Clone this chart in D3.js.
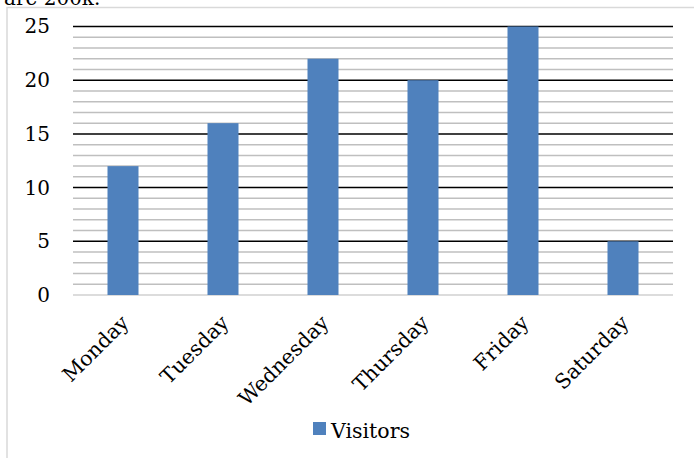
<!DOCTYPE html>
<html><head><meta charset="utf-8">
<script src="https://cdn.jsdelivr.net/npm/d3@7"></script>
<style>body{margin:0;background:#fff}svg{display:block}</style>
</head><body>
<script>
const categories = ["Monday","Tuesday","Wednesday","Thursday","Friday","Saturday"];
const visitors = [12,16,22,20,25,5];
const majorTicks = [0,5,10,15,20,25];
const seriesName = "Visitors";

const W=694,H=458;
const svg=d3.select("body").append("svg").attr("width",W).attr("height",H);
const font="'DejaVu Serif', 'Liberation Serif', serif";

// cut-off text above chart
svg.append("text").attr("x",4).attr("y",5).attr("font-family",font).attr("font-size",20).attr("fill","#000").text("are 200k.");
// chart border
svg.append("rect").attr("x",7).attr("y",7.5).attr("width",W+10).attr("height",H+10)
  .attr("fill","#fff").attr("stroke","#d9d9d9").attr("stroke-width",1.5);

const m={l:73,r:673,t:26.5,b:295};
const x=d3.scaleBand().domain(categories).range([m.l,m.r]).paddingInner(0.69).paddingOuter(0.345);
const y=d3.scaleLinear().domain([0,25]).range([m.b,m.t]);

const g=svg.append("g");
const minor=d3.range(0,26);
g.selectAll("line.minor").data(minor.filter(v=>v%5!==0)).join("line")
  .attr("x1",m.l).attr("x2",m.r).attr("y1",d=>y(d)).attr("y2",d=>y(d))
  .attr("stroke","#bfbfbf").attr("stroke-width",1.5);
g.selectAll("line.major").data(majorTicks.filter(v=>v>0)).join("line")
  .attr("x1",m.l).attr("x2",m.r).attr("y1",d=>y(d)).attr("y2",d=>y(d))
  .attr("stroke","#000").attr("stroke-width",1.5);
g.append("line").attr("x1",m.l).attr("x2",m.r).attr("y1",y(0)).attr("y2",y(0))
  .attr("stroke","#d0d0d0").attr("stroke-width",1.5);

g.selectAll("rect.bar").data(visitors).join("rect")
  .attr("x",(d,i)=>x(categories[i])).attr("width",x.bandwidth())
  .attr("y",d=>y(d)).attr("height",d=>y(0)-y(d))
  .attr("fill","#4f81bd");

// y axis
const ya=d3.axisLeft(y).tickValues(majorTicks).tickSize(0).tickPadding(23);
const yg=svg.append("g").attr("transform",`translate(${m.l},0)`).call(ya);
yg.select(".domain").remove();
yg.selectAll("text").attr("font-family",font).attr("font-size",20).attr("fill","#000");

// x axis labels
const xg=svg.append("g");
xg.selectAll("text").data(categories).join("text")
  .attr("transform",d=>`translate(${x(d)+x.bandwidth()/2+7},${m.b+29}) rotate(-45)`)
  .attr("text-anchor","end").attr("font-family",font).attr("font-size",20.5).attr("fill","#000").text(d=>d);

// legend
svg.append("rect").attr("x",313).attr("y",422).attr("width",13).attr("height",13).attr("fill","#4f81bd");
svg.append("text").attr("x",331).attr("y",438).attr("font-family",font).attr("font-size",20.5).attr("fill","#000").text(seriesName);
</script>
</body></html>
